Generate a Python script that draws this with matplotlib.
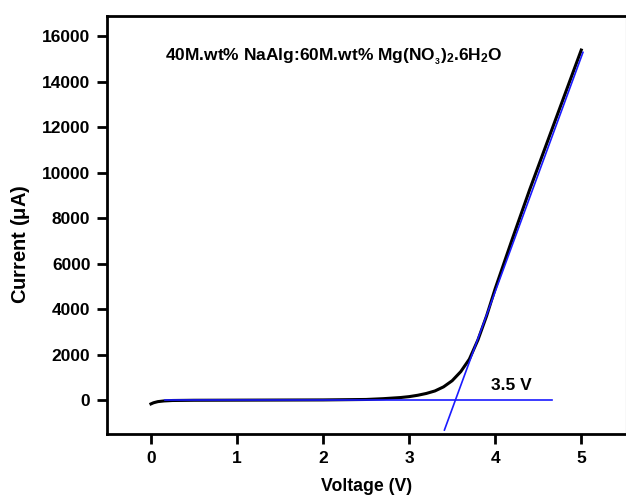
import numpy as np
import matplotlib
matplotlib.use("Agg")
from matplotlib import pyplot as plt

# I-V curve
voltage = [0.0, 0.03, 0.08, 0.15, 0.25, 0.5, 1.0, 1.5, 2.0, 2.5, 2.7, 2.9, 3.0,
           3.1, 3.2, 3.3, 3.4, 3.5, 3.6, 3.7, 3.8, 3.9, 4.0, 4.2, 4.4, 4.6,
           4.8, 5.0]
current = [-170, -120, -70, -40, -20, -10, -5, 0, 5, 25, 60, 110, 150,
           210, 290, 400, 580, 850, 1250, 1800, 2650, 3700, 4900, 7100, 9250,
           11300, 13350, 15400]

# tangent lines for the turn-on voltage
fit_v = [3.41, 5.02]
fit_i = [-1320, 15300]
base_v = [0.16, 4.66]
base_i = [0, 0]

plt.rcParams['font.family'] = ['Liberation Sans', 'DejaVu Sans']
plt.rcParams['font.weight'] = 'bold'
plt.rcParams['mathtext.fontset'] = 'custom'
plt.rcParams['mathtext.rm'] = 'Liberation Sans'
plt.rcParams['mathtext.it'] = 'Liberation Sans'
plt.rcParams['mathtext.bf'] = 'Liberation Sans:bold'

fig = plt.figure(figsize=(6.26, 4.99), dpi=100)
ax = fig.add_axes([0.171, 0.130, 0.829, 0.838])

ax.plot(voltage, current, color='black', lw=2.2, zorder=2)
ax.plot(fit_v, fit_i, color='#1a1aff', lw=1.2, zorder=3)
ax.plot(base_v, base_i, color='#1a1aff', lw=1.2, zorder=3)

ax.set_xlim(-0.51, 5.52)
ax.set_ylim(-1500, 16900)
ax.set_xticks(range(0, 6))
ax.set_yticks(range(0, 16001, 2000))
ax.tick_params(direction='out', length=7, width=2, labelsize=12.5, pad=5)
for lab in ax.get_xticklabels() + ax.get_yticklabels():
    lab.set_fontweight('bold')
for side in ['left', 'bottom', 'top']:
    ax.spines[side].set_linewidth(2)
ax.spines['right'].set_color('#dddddd')
ax.spines['right'].set_linewidth(1)

ax.set_xlabel('Voltage (V)', fontsize=12.7, fontweight='bold', labelpad=9)
ax.set_ylabel('Current $(\\mu\\mathrm{A})$', fontsize=14.5, fontweight='bold')
ax.yaxis.set_label_coords(-0.145, 0.455)

ax.text(0.16, 15100,
        '40M.wt% NaAlg:60M.wt% Mg(NO$_{_\\mathbf{3}}$)$_\\mathbf{2}$.6H$_\\mathbf{2}$O',
        fontsize=12.5, fontweight='bold', va='center')
ax.text(3.95, 660, '3.5 V', fontsize=12.5, fontweight='bold', va='center')

fig.savefig('out.png', dpi=100)
